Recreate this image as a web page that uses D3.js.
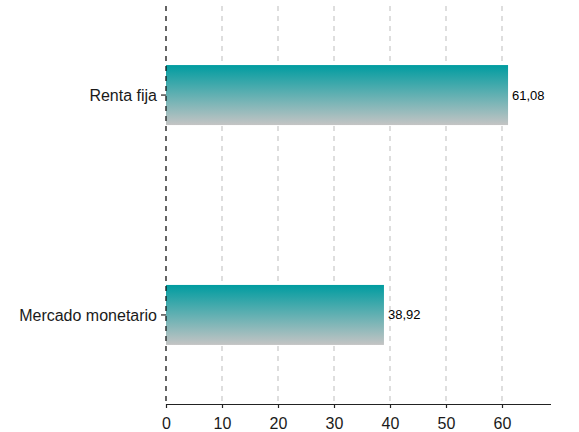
<!DOCTYPE html>
<html><head><meta charset="utf-8">
<script src="https://cdn.jsdelivr.net/npm/d3@7"></script>
<style>body{margin:0;background:#fff}svg{font-family:"Liberation Sans",Arial,sans-serif}</style>
</head><body><svg id="c" width="579" height="432"></svg>
<script>
const categories = ["Renta fija", "Mercado monetario"];
const values = [61.08, 38.92];
const valueLabels = ["61,08", "38,92"];
const xTicks = [0, 10, 20, 30, 40, 50, 60];

(function () {
const svg = d3.select("#c");
const pLeft = 166, pRight = 551, pTop = 6, pBottom = 404;
const x = d3.scaleLinear().domain([0, 68.75]).range([pLeft, pRight]);
const y = d3.scaleLinear().domain([0.595, 2.405]).range([pTop, pBottom]);
const barH = 60;

const defs = svg.append("defs");
const g = defs.append("linearGradient").attr("id", "grad").attr("x1", 0).attr("y1", 0).attr("x2", 0).attr("y2", 1);
g.append("stop").attr("offset", "0%").attr("stop-color", "#009ca0");
g.append("stop").attr("offset", "100%").attr("stop-color", "#c4c4c4");

// grid
svg.append("g").selectAll("line").data(xTicks).join("line")
  .attr("x1", d => x(d)).attr("x2", d => x(d)).attr("y1", pTop).attr("y2", pBottom)
  .attr("stroke", "#c4c4c4").attr("stroke-width", 1.1).attr("stroke-dasharray", "5,5");

// bars
svg.append("g").selectAll("rect").data(values).join("rect")
  .attr("x", x(0)).attr("width", d => x(d) - x(0))
  .attr("y", (d, i) => y(i + 1) - barH / 2).attr("height", barH)
  .attr("fill", "url(#grad)");

// zero dashed line
svg.append("line").attr("x1", x(0)).attr("x2", x(0)).attr("y1", pTop).attr("y2", pBottom)
  .attr("stroke", "#000").attr("stroke-width", 1.1).attr("stroke-dasharray", "5,5");

// value labels
svg.append("g").selectAll("text").data(values).join("text")
  .attr("x", d => x(d) + 4).attr("y", (d, i) => y(i + 1)).attr("dy", "0.35em")
  .attr("font-size", 13).attr("fill", "#000").text((d, i) => valueLabels[i]);

// x axis
const xa = svg.append("g").attr("transform", `translate(0,${pBottom})`)
  .call(d3.axisBottom(x).tickValues(xTicks).tickSize(4).tickPadding(10).tickFormat(d3.format("d")));
xa.select(".domain").attr("d", `M${pLeft},0.5H${pRight}`).attr("stroke", "#222").attr("stroke-width", 1.2);
xa.selectAll(".tick line").attr("stroke", "#222").attr("stroke-width", 1.2);
xa.selectAll(".tick text").attr("font-size", 16).attr("fill", "#1a1a1a").attr("font-family", '"Liberation Sans",Arial,sans-serif');

// y axis labels
const yg = svg.append("g");
categories.forEach((c, i) => {
  yg.append("line").attr("x1", pLeft - 5).attr("x2", pLeft).attr("y1", y(i + 1)).attr("y2", y(i + 1))
    .attr("stroke", "#222").attr("stroke-width", 1.2);
  yg.append("text").attr("x", pLeft - 9).attr("y", y(i + 1)).attr("dy", "0.35em")
    .attr("text-anchor", "end").attr("font-size", 16).attr("fill", "#1a1a1a").text(c);
});
})();
</script></body></html>
